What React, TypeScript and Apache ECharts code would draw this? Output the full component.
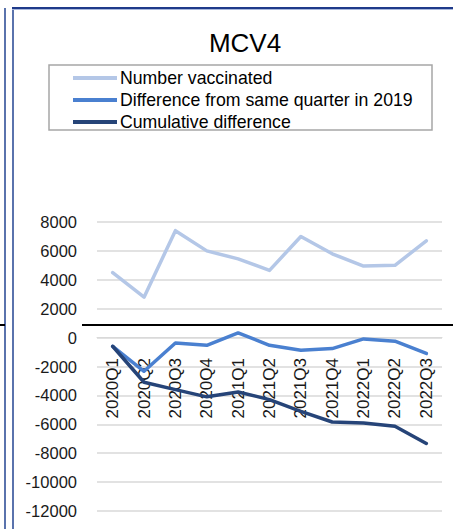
import React, { useEffect, useRef } from "react";
import * as echarts from "echarts";

const categories = ["2020Q1", "2020Q2", "2020Q3", "2020Q4", "2021Q1", "2021Q2", "2021Q3", "2021Q4", "2022Q1", "2022Q2", "2022Q3"];
const numberVaccinated = [4500, 2800, 7400, 6000, 5450, 4650, 7000, 5800, 4950, 5000, 6700];
const differenceFrom2019 = [-600, -2330, -370, -530, 320, -530, -870, -760, -90, -250, -1100];
const cumulativeDifference = [-600, -3090, -3600, -4100, -3760, -4290, -5100, -5840, -5910, -6140, -7330];
const seriesNames = ["Number vaccinated", "Difference from same quarter in 2019", "Cumulative difference"];
const seriesColors = ["#b4c7e7", "#4a80d0", "#264478"];

const FONT = "'Liberation Sans', Arial, sans-serif";

export default function App() {
  const ref = useRef<HTMLDivElement>(null);
  useEffect(() => {
    document.body.style.margin = "0";
    const chart = echarts.init(ref.current!, null, { renderer: "svg" });
    const mk = (i: number, data: number[]) => ({
      name: seriesNames[i],
      type: "line",
      data,
      symbol: "none",
      z: 3 + i,
      lineStyle: { color: seriesColors[i], width: 3.5, cap: "round", join: "round" },
      itemStyle: { color: seriesColors[i] },
    });
    chart.setOption({
      animation: false,
      backgroundColor: "#ffffff",
      textStyle: { fontFamily: FONT },
      title: {
        text: "MCV4",
        left: 240,
        textAlign: "center",
        top: 25,
        textStyle: { fontFamily: FONT, fontSize: 26, fontWeight: "normal", color: "#000" },
      },
      legend: {
        orient: "vertical",
        left: 68,
        top: 64,
        itemWidth: 44,
        itemHeight: 4,
        itemGap: 4,
        data: seriesNames.map((n) => ({ name: n, icon: "rect" })),
        textStyle: { fontFamily: FONT, fontSize: 17.7, color: "#000", padding: [0, 0, 0, -2] },
      },
      grid: { left: 97, right: 11, top: 222, bottom: 18, containLabel: false, outerBoundsMode: "none" },
      xAxis: {
        type: "category",
        data: categories,
        boundaryGap: true,
        axisLine: { onZero: true, lineStyle: { color: "#d9d9d9", width: 1 } },
        axisTick: { show: false },
        axisLabel: { rotate: 90, margin: -153, fontSize: 17, color: "#1a1a1a", fontFamily: FONT },
      },
      yAxis: {
        type: "value",
        min: -12000,
        max: 8000,
        interval: 2000,
        axisLine: { show: false },
        axisTick: { show: false },
        axisLabel: { margin: 20, fontSize: 16.5, color: "#1a1a1a", fontFamily: FONT, formatter: (v: number) => String(v) },
        splitLine: { lineStyle: { color: "#d9d9d9", width: 1.5 } },
      },
      series: [mk(0, numberVaccinated), mk(1, differenceFrom2019), mk(2, cumulativeDifference)],
      graphic: [
        { type: "rect", z: 1, shape: { x: 49, y: 65, width: 383, height: 65 }, style: { fill: "none", stroke: "#a6a6a6", lineWidth: 1.5 } },
        { type: "line", z: 10, shape: { x1: 5, y1: 8, x2: 5, y2: 529 }, style: { stroke: "#5a73ad", lineWidth: 2 } },
        { type: "line", z: 10, shape: { x1: 13, y1: 8, x2: 13, y2: 529 }, style: { stroke: "#5a73ad", lineWidth: 2 } },
        { type: "line", z: 10, shape: { x1: 12, y1: 8, x2: 453, y2: 8 }, style: { stroke: "#1f3a8a", lineWidth: 2 } },
        { type: "line", z: 10, shape: { x1: 12, y1: 9.5, x2: 453, y2: 9.5 }, style: { stroke: "#a9b8dc", lineWidth: 1 } },
        { type: "line", z: 10, shape: { x1: 0, y1: 325, x2: 5, y2: 325 }, style: { stroke: "#000", lineWidth: 2 } },
        { type: "line", z: 10, shape: { x1: 82, y1: 325, x2: 453, y2: 325 }, style: { stroke: "#000", lineWidth: 2 } },
      ],
    });
    return () => chart.dispose();
  }, []);
  return <div ref={ref} style={{ position: "absolute", left: 0, top: 0, width: 453, height: 529 }} />;
}
